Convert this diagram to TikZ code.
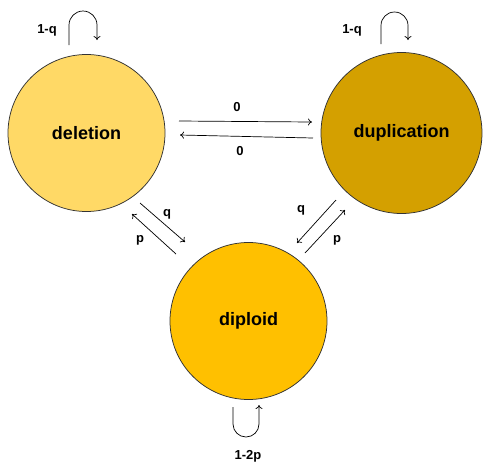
\documentclass[tikz,border=0pt]{standalone}
\usepackage{fontspec}
\setmainfont{Liberation Sans}
\usepackage{tikz}
\usetikzlibrary{arrows.meta}
\definecolor{delcol}{RGB}{255,217,102}
\definecolor{dupcol}{RGB}{212,160,0}
\definecolor{dipcol}{RGB}{255,192,0}
\tikzset{
STATE/.style={circle,draw=black!80,line width=0.75pt,minimum size=#1,inner sep=0pt,font=\fontsize{18}{20}\selectfont\bfseries},
STATE/.default = 157pt,
EDGE/.style ={draw=black,line width=0.7pt,-{To[length=4pt,width=7pt]}},
LOOP/.style ={draw=black,line width=0.7pt,-{To[length=4pt,width=7pt]},line join=round},
LABEL/.style={font=\fontsize{13}{15}\selectfont\bfseries},
}
\begin{document}
\begin{tikzpicture}
[x=1pt,y=1pt]
	\useasboundingbox (0,0) rectangle (493,-467);
	%States
	\node[STATE,fill=delcol] (del) at (86.5,-133) {deletion};
	\node[STATE=161pt,fill=dupcol] (dup) at (401.5,-133) {duplication};
	\node[STATE,fill=dipcol] (dip) at (248.5,-321) {diploid};
	%Between deletion and duplication
	\path[EDGE] ([shift={(92.5,12)}]del.center) -- ([shift={(-89.5,11)}]dup.center);
	\path[EDGE] ([shift={(-88.5,-5)}]dup.center) -- ([shift={(93.5,-2)}]del.center);
	\node[LABEL] (z1) at (237,-107) {0};
	\node[LABEL] (z2) at (240,-151) {0};
	%Deletion and diploid
	\path[EDGE] ([shift={(53.5,-70)}]del.center) -- ([shift={(-63.5,79)}]dip.center);
	\path[EDGE] ([shift={(-72.5,67)}]dip.center) -- ([shift={(45.5,-81)}]del.center);
	\node[LABEL] (q1) at (167,-214) {q};
	\node[LABEL] (p1) at (140,-240) {p};
	%Duplication and diploid
	\path[EDGE] ([shift={(-65.5,-67)}]dup.center) -- ([shift={(48.5,78)}]dip.center);
	\path[EDGE] ([shift={(56.5,68)}]dip.center) -- ([shift={(-56.5,-77)}]dup.center);
	\node[LABEL] (q2) at (301,-210) {q};
	\node[LABEL] (p2) at (337,-240) {p};
	%Self loops
	\path[LOOP] ([shift={(-17.5,88)}]del.center) -- ++(0,20) arc (180:0:14) -- ++(0,-15);
	\path[LOOP] ([shift={(-20.5,89)}]dup.center) -- ++(0,18.5) arc (180:0:13.5) -- ++(0,-14.5);
	\path[LOOP] ([shift={(-15.5,-86)}]dip.center) -- ++(0,-17) arc (180:360:13) -- ++(0,19);
	\node[LABEL] (l1) at (47,-30) {1-q};
	\node[LABEL] (l2) at (352,-30) {1-q};
	\node[LABEL] (l3) at (248,-456) {1-2p};
\end{tikzpicture}
\end{document}
